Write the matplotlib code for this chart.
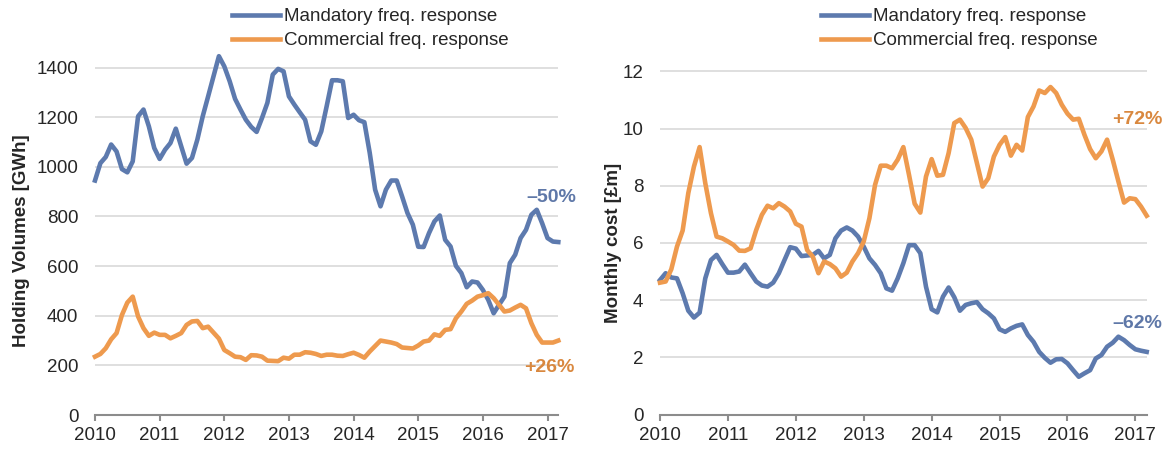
import matplotlib
matplotlib.use("Agg")
import matplotlib.pyplot as plt
import numpy as np

plt.rcParams['font.family'] = ['Liberation Sans', 'DejaVu Sans']

# Monthly data, Jan 2010 .. Mar 2017
start_year = 2010
years = [2010, 2011, 2012, 2013, 2014, 2015, 2016, 2017]
year_labels = [str(y) for y in years]

volume_mandatory = [
    945, 1015, 1040, 1090, 1062, 991, 978, 1022, 1204, 1231, 1163, 1076,
    1032, 1069, 1096, 1154, 1083, 1013, 1036, 1110, 1204, 1284, 1365, 1446,
    1405, 1345, 1274, 1231, 1190, 1161, 1141, 1197, 1258, 1372, 1395, 1385,
    1284, 1251, 1220, 1190, 1103, 1089, 1143, 1244, 1349, 1349, 1345, 1197,
    1210, 1188, 1180, 1056, 908, 841, 908, 945, 945, 881, 814, 767,
    678, 677, 733, 780, 804, 706, 679, 601, 572, 515, 538, 534,
    504, 464, 410, 444, 477, 612, 646, 713, 746, 807, 827, 773,
    713, 699, 697,
]
volume_commercial = [
    235, 246, 269, 305, 330, 403, 453, 477, 397, 350, 319, 332,
    323, 323, 309, 319, 330, 363, 377, 379, 350, 356, 332, 308,
    262, 249, 235, 233, 222, 241, 240, 235, 219, 218, 217, 231,
    227, 243, 243, 253, 251, 246, 238, 243, 243, 239, 238, 245,
    251, 242, 231, 256, 278, 300, 296, 292, 286, 272, 270, 268,
    280, 296, 300, 325, 319, 343, 346, 390, 417, 448, 461, 477,
    483, 491, 471, 444, 417, 421, 433, 444, 430, 370, 323, 292,
    292, 292, 300,
]
cost_mandatory = [
    4.70, 4.94, 4.79, 4.76, 4.24, 3.63, 3.39, 3.56, 4.76, 5.40, 5.58, 5.26,
    4.96, 4.96, 5.00, 5.24, 4.94, 4.65, 4.51, 4.47, 4.61, 4.94, 5.40, 5.85,
    5.80, 5.54, 5.56, 5.58, 5.72, 5.46, 5.58, 6.16, 6.43, 6.54, 6.43, 6.22,
    5.87, 5.46, 5.23, 4.94, 4.41, 4.33, 4.76, 5.29, 5.92, 5.92, 5.64, 4.47,
    3.68, 3.57, 4.12, 4.44, 4.10, 3.63, 3.83, 3.89, 3.93, 3.68, 3.54, 3.36,
    2.98, 2.89, 3.01, 3.10, 3.15, 2.78, 2.54, 2.19, 1.98, 1.81, 1.93, 1.94,
    1.79, 1.55, 1.32, 1.44, 1.55, 1.96, 2.08, 2.37, 2.51, 2.72, 2.60, 2.43,
    2.28, 2.23, 2.19,
]
cost_commercial = [
    4.61, 4.65, 5.08, 5.87, 6.43, 7.74, 8.67, 9.35, 8.09, 7.04, 6.22, 6.16,
    6.05, 5.93, 5.73, 5.72, 5.81, 6.45, 6.98, 7.30, 7.21, 7.39, 7.27, 7.10,
    6.67, 6.57, 5.75, 5.52, 4.94, 5.35, 5.26, 5.11, 4.82, 4.96, 5.35, 5.64,
    6.05, 6.86, 8.03, 8.70, 8.70, 8.61, 8.91, 9.35, 8.38, 7.37, 7.06, 8.32,
    8.93, 8.35, 8.38, 9.14, 10.19, 10.31, 10.02, 9.61, 8.79, 7.97, 8.26, 9.02,
    9.43, 9.70, 9.05, 9.43, 9.23, 10.40, 10.77, 11.33, 11.24, 11.45, 11.24, 10.83,
    10.52, 10.31, 10.34, 9.78, 9.28, 8.96, 9.20, 9.61, 8.91, 8.15, 7.41, 7.56,
    7.53, 7.27, 6.95,
]

series_labels = ["Mandatory freq. response", "Commercial freq. response"]
left_changes = ["\u201350%", "+26%"]
right_changes = ["+72%", "\u201362%"]

BLUE = "#5D7AAE"
ORANGE = "#EE9A4E"
BLUE_TXT = "#5F78A8"
ORANGE_TXT = "#D9883F"
GRID = "#D9D9D9"
TXT = "#262626"
FS = 13.5

n = len(volume_mandatory)
t = start_year + np.arange(n) / 12.0

W, H = 1169, 449
fig = plt.figure(figsize=(W / 100, H / 100), dpi=100)

def fx(px):
    return px / W

def fy(py):
    return 1 - py / H

ax1 = fig.add_axes([fx(95), fy(415), fx(558.3) - fx(95), fy(42.8) - fy(415)])
ax2 = fig.add_axes([fx(660), fy(414.5), fx(1146.7) - fx(660), fy(42.7) - fy(414.5)])

def style(ax, ymax, yticks):
    ax.set_xlim(t[0], t[-1])
    ax.set_ylim(0, ymax)
    ax.set_yticks(yticks)
    ax.set_xticks(years)
    ax.set_xticklabels(year_labels)
    for s in ["top", "right", "left"]:
        ax.spines[s].set_visible(False)
    ax.spines["bottom"].set_color("#8C8C8C")
    ax.spines["bottom"].set_linewidth(1.5)
    ax.grid(axis="y", color=GRID, linewidth=1.2)
    ax.set_axisbelow(True)
    ax.tick_params(axis="y", length=0, pad=12, labelsize=FS, labelcolor=TXT)
    ax.tick_params(axis="x", length=4, width=1.5, color="#8C8C8C", direction="out",
                   pad=5, labelsize=FS, labelcolor=TXT)

ax1.plot(t, volume_mandatory, color=BLUE, lw=3.3, solid_joinstyle="round",
         label=series_labels[0], clip_on=False)
ax1.plot(t, volume_commercial, color=ORANGE, lw=3.3, solid_joinstyle="round",
         label=series_labels[1], clip_on=False)
style(ax1, 1500, list(range(0, 1401, 200)))
ax1.set_ylabel("Holding Volumes [GWh]", fontsize=FS, fontweight="bold", color=TXT)
ax1.yaxis.set_label_coords(fx(30), fy(241), transform=fig.transFigure)

ax2.plot(t, cost_mandatory, color=BLUE, lw=3.3, solid_joinstyle="round",
         label=series_labels[0], clip_on=False)
ax2.plot(t, cost_commercial, color=ORANGE, lw=3.3, solid_joinstyle="round",
         label=series_labels[1], clip_on=False)
style(ax2, 13, list(range(0, 13, 2)))
ax2.set_ylabel("Monthly cost [\u00a3m]", fontsize=FS, fontweight="bold", color=TXT)
ax2.yaxis.set_label_coords(fx(622), fy(243), transform=fig.transFigure)

for ax, xpx in [(ax1, 232), (ax2, 821)]:
    ax.legend(loc="upper left", bbox_to_anchor=(fx(xpx), fy(8)), bbox_transform=fig.transFigure,
              frameon=False, borderpad=0, borderaxespad=0, handlelength=2.56,
              handletextpad=0.2, labelspacing=0.37, fontsize=FS, labelcolor=TXT)

AFS = 14
fig.text(fx(526), fy(197), left_changes[0], color=BLUE_TXT, fontsize=AFS, fontweight="bold",
         ha="left", va="center")
fig.text(fx(524), fy(367), left_changes[1], color=ORANGE_TXT, fontsize=AFS, fontweight="bold",
         ha="left", va="center")
fig.text(fx(1112), fy(120), right_changes[0], color=ORANGE_TXT, fontsize=AFS, fontweight="bold",
         ha="left", va="center")
fig.text(fx(1112), fy(324), right_changes[1], color=BLUE_TXT, fontsize=AFS, fontweight="bold",
         ha="left", va="center")

fig.savefig("out.png", dpi=100)
